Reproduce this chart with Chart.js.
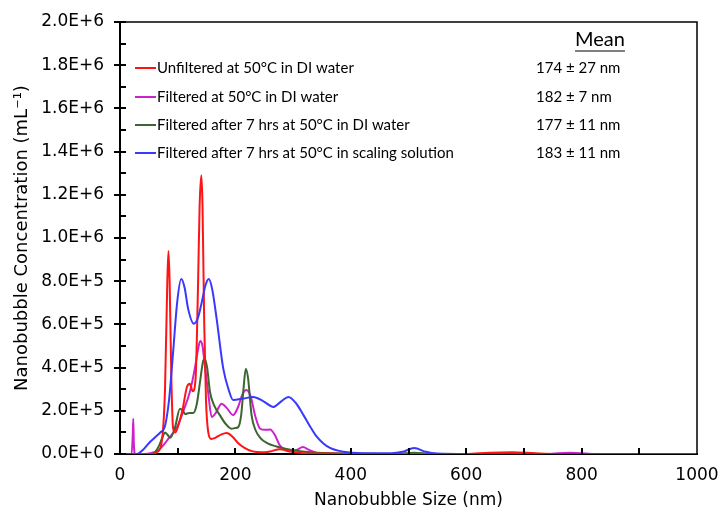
<!DOCTYPE html>
<html>
<head>
<meta charset="utf-8">
<script src="https://cdn.jsdelivr.net/npm/chart.js@4"></script>
<style>
  html, body { margin: 0; padding: 0; background: #fff; }
  #wrap { width: 722px; height: 515px; }
</style>
</head>
<body>
<div id="wrap"><canvas id="nbChart" width="722" height="515"></canvas></div>
<script>
// series labels and mean sizes
const seriesLabels = [
  "Unfiltered at 50°C in DI water",
  "Filtered at 50°C in DI water",
  "Filtered after 7 hrs at 50°C in DI water",
  "Filtered after 7 hrs at 50°C in scaling solution"
];
const seriesMeans = ["174 \u00B1 27 nm", "182 \u00B1 7 nm", "177 \u00B1 11 nm", "183 \u00B1 11 nm"];

// size (nm) / concentration (millions per mL)
const redSize = [0, 55, 65, 72, 78, 82, 84, 86, 89, 92, 96, 102, 108, 116, 121, 126, 131, 135, 138, 141, 143, 146, 149, 153, 158, 165, 175, 185, 195, 205, 215, 230, 245, 260, 277, 295, 320, 360, 450, 600, 640, 680, 720, 760, 1000];
const redConc = [0, 0, 0.01, 0.05, 0.3, 0.8, 0.94, 0.8, 0.35, 0.12, 0.1, 0.14, 0.2, 0.31, 0.325, 0.29, 0.35, 0.75, 1.15, 1.29, 1.15, 0.6, 0.25, 0.1, 0.07, 0.075, 0.09, 0.097, 0.08, 0.05, 0.03, 0.012, 0.008, 0.012, 0.022, 0.012, 0.004, 0.002, 0, 0, 0.006, 0.008, 0.003, 0, 0];

const magSize = [0, 20, 22, 23, 24, 26, 40, 55, 65, 75, 85, 98, 110, 121, 130, 135, 139, 143, 147, 153, 159, 166, 176, 186, 196, 205, 212, 219, 226, 235, 243, 252, 260, 268, 277, 287, 297, 307, 317, 327, 340, 360, 450, 740, 780, 820, 1000];
const magConc = [0, 0, 0.08, 0.163, 0.05, 0, 0, 0.005, 0.015, 0.04, 0.075, 0.12, 0.2, 0.287, 0.4, 0.48, 0.523, 0.5, 0.41, 0.28, 0.171, 0.19, 0.233, 0.21, 0.18, 0.22, 0.275, 0.296, 0.27, 0.17, 0.117, 0.112, 0.113, 0.09, 0.04, 0.018, 0.012, 0.02, 0.032, 0.02, 0.006, 0.002, 0, 0, 0.006, 0, 0];

const grnSize = [0, 50, 58, 68, 74, 78, 82, 87, 95, 104, 109, 113, 120, 127, 133, 139, 144, 147, 151, 156, 164, 173, 183, 193, 200, 205, 210, 214, 218, 222, 228, 235, 243, 255, 271, 295, 330, 400, 480, 510, 540, 600, 1000];
const grnConc = [0, 0, 0.003, 0.04, 0.08, 0.1, 0.09, 0.075, 0.12, 0.21, 0.2, 0.185, 0.19, 0.19, 0.23, 0.34, 0.43, 0.441, 0.4, 0.287, 0.22, 0.18, 0.14, 0.117, 0.12, 0.125, 0.18, 0.3, 0.395, 0.35, 0.18, 0.11, 0.075, 0.05, 0.035, 0.02, 0.008, 0.002, 0, 0.006, 0, 0, 0];

const bluSize = [0, 29, 40, 50, 60, 70, 78, 85, 92, 99, 106, 112, 118, 128, 135, 141.5, 148, 154, 160, 167.5, 179, 188, 196, 214, 231, 248, 266, 280, 292, 305, 318, 330, 341, 352, 364, 387, 420, 470, 490, 510, 530, 550, 600, 1000];
const bluConc = [0, 0, 0.02, 0.05, 0.075, 0.1, 0.13, 0.25, 0.47, 0.7, 0.81, 0.77, 0.673, 0.603, 0.63, 0.7, 0.78, 0.81, 0.76, 0.626, 0.395, 0.3, 0.25, 0.257, 0.264, 0.245, 0.218, 0.245, 0.264, 0.235, 0.18, 0.125, 0.08, 0.05, 0.028, 0.01, 0.003, 0.003, 0.01, 0.028, 0.01, 0.002, 0, 0];

const colors = ["#ff1414", "#cc22cc", "#3d6530", "#3838ff"];
const drawOrder = [1, 3, 2, 0];

const FONT = "Lato, 'DejaVu Sans', sans-serif";
const AXFONT = "'DejaVu Sans', sans-serif";

function toPoints(xs, ys) {
  return xs.map((x, i) => ({ x: x, y: ys[i] * 1e6 }));
}

const sizes = [redSize, magSize, grnSize, bluSize];
const concs = [redConc, magConc, grnConc, bluConc];

// extra ticks, legend and frame
const decorPlugin = {
  id: "decor",
  afterDraw(chart) {
    const ctx = chart.ctx;
    const xs = chart.scales.x, ys = chart.scales.y;
    const a = chart.chartArea;
    ctx.save();
    ctx.strokeStyle = "#000";
    // frame top/right
    ctx.lineWidth = 1.5;
    ctx.beginPath();
    ctx.moveTo(a.left, a.top);
    ctx.lineTo(a.right, a.top);
    ctx.lineTo(a.right, a.bottom);
    ctx.stroke();
    // y ticks
    ctx.lineWidth = 2;
    for (let v = 0; v <= 2e6; v += 1e5) {
      const py = Math.round(ys.getPixelForValue(v));
      const major = Math.round(v / 1e5) % 2 === 0;
      ctx.beginPath();
      ctx.moveTo(a.left - (major ? 6 : 0), py);
      ctx.lineTo(a.left + 6, py);
      ctx.stroke();
    }
    // x ticks
    for (let v = 100; v < 1000; v += 100) {
      const px = Math.round(xs.getPixelForValue(v));
      ctx.beginPath();
      ctx.moveTo(px, a.bottom);
      ctx.lineTo(px, a.bottom - 6);
      ctx.stroke();
    }
    // legend
    ctx.font = "15px " + FONT;
    ctx.textBaseline = "middle";
    ctx.fillStyle = "#000";
    const rowY = [68, 97, 125, 153];
    seriesLabels.forEach((lab, i) => {
      const y = rowY[i];
      ctx.strokeStyle = colors[i];
      ctx.lineWidth = 2;
      ctx.beginPath();
      ctx.moveTo(a.left + 15, y);
      ctx.lineTo(a.left + 36, y);
      ctx.stroke();
      ctx.textAlign = "left";
      ctx.fillText(lab, a.left + 37, y);
      ctx.fillText(seriesMeans[i], a.left + 416, y);
    });
    // Mean header
    ctx.font = "20px " + FONT;
    ctx.textAlign = "center";
    const hx = a.left + 480, hy = 40;
    ctx.fillText("Mean", hx, hy);
    const w = ctx.measureText("Mean").width;
    ctx.strokeStyle = "#000";
    ctx.lineWidth = 1.2;
    ctx.beginPath();
    ctx.moveTo(hx - w / 2, hy + 11);
    ctx.lineTo(hx + w / 2, hy + 11);
    ctx.stroke();
    ctx.restore();
  }
};

new Chart(document.getElementById("nbChart"), {
  type: "line",
  data: {
    datasets: seriesLabels.map((lab, i) => ({
      label: lab,
      data: toPoints(sizes[i], concs[i]),
      borderColor: colors[i],
      borderWidth: 2,
      pointRadius: 0,
      fill: false,
      cubicInterpolationMode: "monotone",
      order: drawOrder[i]
    }))
  },
  options: {
    responsive: false,
    animation: false,
    layout: { padding: { top: 22, right: 25, left: 8, bottom: 0 } },
    plugins: { legend: { display: false }, tooltip: { enabled: false } },
    scales: {
      x: {
        type: "linear",
        min: 0, max: 1000,
        grid: { display: false },
        border: { display: true, color: "#000", width: 2 },
        ticks: { stepSize: 200, padding: 3, color: "#000", font: { family: AXFONT, size: 17 },
          callback: v => String(v) },
        title: { display: true, text: "Nanobubble Size (nm)", color: "#000", font: { family: AXFONT, size: 17 }, padding: { top: 2 } },
        afterFit(s) { s.height = 61; s.paddingLeft = 0; s.paddingRight = 0; }
      },
      y: {
        min: 0, max: 2e6,
        grid: { display: false },
        border: { display: true, color: "#000", width: 2 },
        ticks: {
          stepSize: 2e5, padding: 8, color: "#000", font: { family: AXFONT, size: 17 },
          callback: v => Number(v).toExponential(1).toUpperCase()
        },
        title: { display: true, text: "Nanobubble Concentration (mL\u207B\u00B9)", color: "#000", font: { family: AXFONT, size: 18 } },
        afterFit(s) { s.width = 112; s.paddingTop = 0; s.paddingBottom = 0; }
      }
    }
  },
  plugins: [decorPlugin]
});
</script>
</body>
</html>
